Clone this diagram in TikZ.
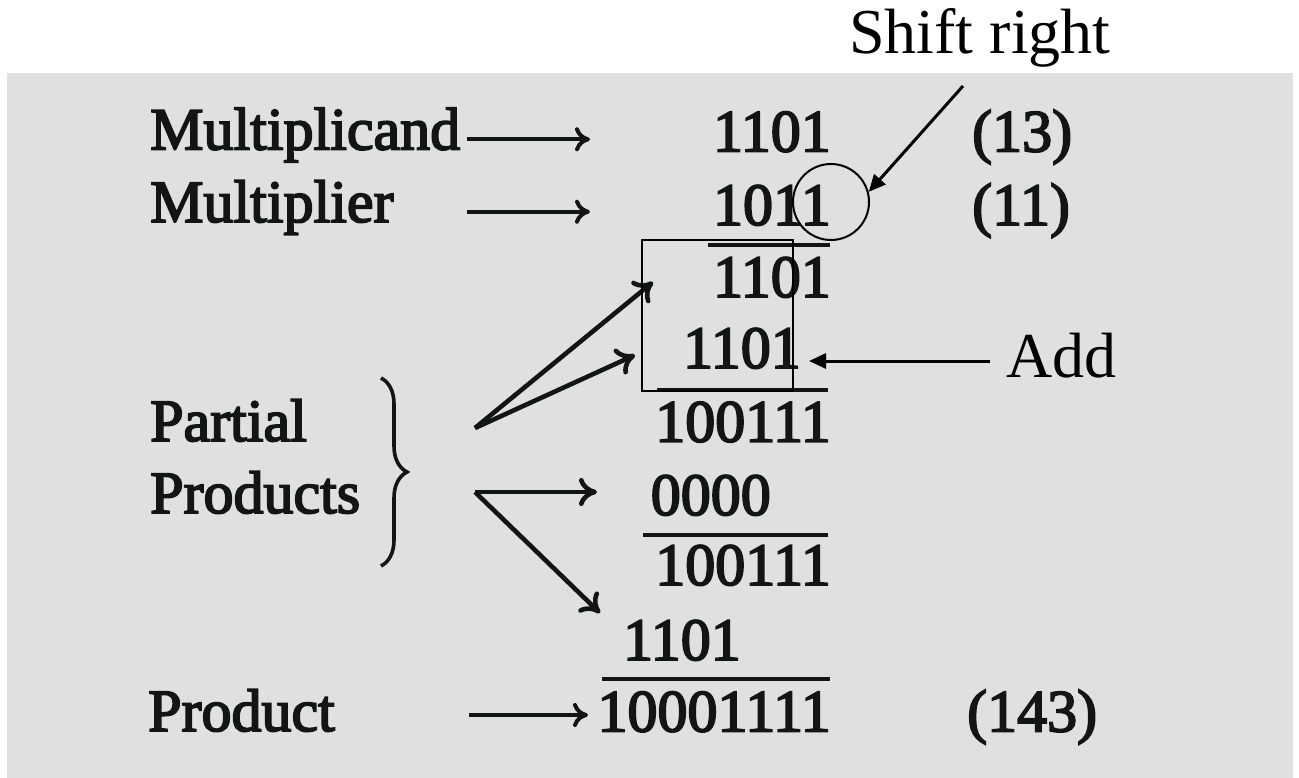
\documentclass[tikz,border=0pt]{standalone}
\usepackage{fontspec}
\setmainfont{Liberation Serif}
\newfontfamily\scanfont{Liberation Serif}[FakeBold=3]
\usetikzlibrary{arrows.meta,decorations.pathreplacing}
\definecolor{panel}{RGB}{224,224,224}
\definecolor{ink}{RGB}{18,22,18}

\begin{document}
\begin{tikzpicture}[x=1pt,y=-1pt,
  scan/.style={font=\scanfont\fontsize{60}{72}\selectfont, text=ink, inner sep=0pt},
  lbl/.style={scan, anchor=base west},
  num/.style={scan, anchor=base east},
  note/.style={font=\fontsize{64}{76}\selectfont, text=black, inner sep=0pt, anchor=base west},
  longarr/.style={draw=ink, line width=4pt, -{Computer Modern Rightarrow[length=15pt,width=24pt,line width=4pt]}},
  fanarr/.style={draw=ink, line width=4.6pt, -{Computer Modern Rightarrow[length=18pt,width=28pt,line width=4.6pt]}},
  sumrule/.style={draw=ink, line width=3.8pt},
  pointer/.style={draw=black, line width=3pt, -{Triangle[length=17pt,width=15pt]}},
  hilite/.style={draw=black, line width=2pt, inner sep=0pt}
]
\useasboundingbox (0,0) rectangle (1299,778);
\fill[white] (0,0) rectangle (1299,778);
\fill[panel] (7,73) rectangle (1293,778);

% operand labels
\node[lbl] (lmcand) at (150,149.5) {Multiplicand};
\node[lbl] (lmplier) at (150,222) {Multiplier};
\node[lbl] (lpart) at (150,441) {Partial};
\node[lbl] (lprods) at (150,513) {Products};
\node[lbl] (lprod) at (148,731) {Product};

% the worked multiplication, right aligned
\node[num] (r1) at (831,151.5) {1101};
\node[num] (r2) at (831,225) {1011};
\node[num] (r3) at (831,297) {1101};
\node[num] (r4) at (801,368) {1101};
\node[num] (r5) at (831,441.7) {100111};
\node[num] (r6) at (771,515) {0000};
\node[num] (r7) at (831,585) {100111};
\node[num] (r8) at (741,660) {1101};
\node[num] (r9) at (831,731.5) {10001111};

% decimal values
\node[lbl] (d1) at (972,151.5) {(13)};
\node[lbl] (d2) at (972,225) {(11)};
\node[lbl] (d3) at (967,731.5) {(143)};

% sum rules
\draw[sumrule] (708,245) -- (830,245);
\draw[sumrule] (657,390) -- (828,390);
\draw[sumrule] (643,535) -- (828,535);
\draw[sumrule] (602,679) -- (830,679);

% label arrows
\coordinate (a1s) at (467,139.3); \coordinate (a1e) at (590,139.3);
\coordinate (a2s) at (467,211.7); \coordinate (a2e) at (590,211.7);
\coordinate (a3s) at (469,715);   \coordinate (a3e) at (588,715);
\draw[longarr] (a1s) -- (a1e);
\draw[longarr] (a2s) -- (a2e);
\draw[longarr] (a3s) -- (a3e);

% brace and fans to the partial products
\draw[ink, line width=3.6pt, decorate, decoration={brace, amplitude=26pt}] (381,378) -- (381,566);
\coordinate (fanA) at (475,428);
\coordinate (fanB) at (475,492);
\coordinate (pp1) at (653,282);
\coordinate (pp2) at (635,355);
\coordinate (pp3) at (597,492);
\coordinate (pp4) at (600,613);
\draw[fanarr] (fanA) -- (pp1);
\draw[fanarr] (fanA) -- (pp2);
\draw[fanarr] (fanB) -- (pp3);
\draw[fanarr] (fanB) -- (pp4);

% annotations
\node[hilite, rectangle, minimum width=151pt, minimum height=151pt] (addbox) at (717.5,315.5) {};
\node[hilite, circle, minimum size=76pt] (lsb) at (831,202) {};
\node[note] (shift) at (849,54) {Shift right};
\node[note] (add) at (1006,377) {Add};
\coordinate (shtail) at (963,86);
\coordinate (addtail) at (990,361);
\coordinate (addtip) at (809,361);
\draw[pointer] (shtail) -- (lsb.15);
\draw[pointer] (addtail) -- (addtip);
\end{tikzpicture}
\end{document}
